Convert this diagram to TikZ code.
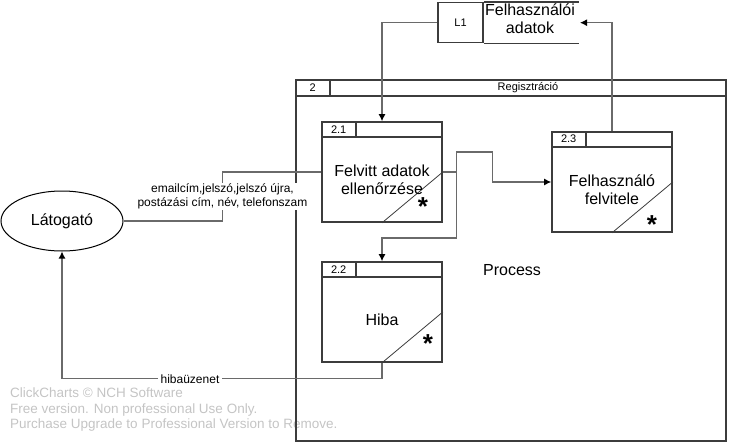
\documentclass[tikz,border=0pt]{standalone}
\usepackage{fontspec}
\setmainfont{Liberation Sans}
\usetikzlibrary{positioning,arrows.meta,shapes.geometric,calc}
\definecolor{linegray}{HTML}{6A6A6A}
\definecolor{boxgray}{HTML}{3C3C3C}
\definecolor{wmgray}{HTML}{C4C4C4}

\begin{document}
\begin{tikzpicture}[x=1pt,y=-1pt,
    box/.style={draw=boxgray,line width=1.6pt},
    proc/.style={box,minimum width=120pt,minimum height=100pt,inner sep=0pt},
    flow/.style={draw=linegray,line width=1.2pt},
    >={Latex[length=7pt,width=7pt,black]},
    big/.style={font=\fontsize{16}{18}\selectfont,align=center},
    small/.style={font=\fontsize{11}{13}\selectfont,inner sep=0pt},
    lbl/.style={font=\fontsize{12}{14}\selectfont,align=center,fill=white,inner xsep=3pt,inner ysep=1pt},
    star/.style={font=\fontsize{26}{26}\selectfont\bfseries,inner sep=0pt}]
  \useasboundingbox (0,0) rectangle (731,444);
  % vízjel
  \node[anchor=north west,align=left,text=wmgray,inner sep=0pt,
        font=\fontsize{13.5}{15.5}\selectfont] (wm) at (10,388)
    {ClickCharts © NCH Software\\Free version. Non professional Use Only.\\Purchase Upgrade to Professional Version to Remove.};
  % 2 Regisztráció
  \node[box,minimum width=430pt,minimum height=361pt,inner sep=0pt] (reg) at (511,260.5) {};
  \draw[box] ([yshift=-17pt]reg.north west) -- ([yshift=-17pt]reg.north east);
  \draw[box] ([xshift=35pt]reg.north west) -- ++(0,17);
  \node[small] (reg-id) at ([xshift=17.5pt,yshift=-8.5pt]reg.north west) {2};
  \node[small] (reg-name) at ($(reg.north)+(17,8.5)$) {Regisztráció};
  \node[big] (proclbl) at (512,270) {Process};
  % folyamatok
  \foreach \n/\x/\y/\id/\sx/\sy in {p21/382/172/2.1/41/35, p22/382/312/2.2/46/32, p23/612/182/2.3/40/43}{
    \node[proc] (\n) at (\x,\y) {};
    \draw[box] ([yshift=-16pt]\n.north west) -- ([yshift=-16pt]\n.north east);
    \draw[box] ([xshift=35pt]\n.north west) -- ++(0,16);
    \node[small] (\n-id) at ([xshift=17.5pt,yshift=-8pt]\n.north west) {\id};
    \draw[draw=boxgray,line width=0.8pt] (\n.south) -- (\n.east);
    \node[star] (\n-star) at (\x+\sx,\y+\sy) {*};
  }
  \node[big] (p21-txt) at ([yshift=-8pt]p21.center) {Felvitt adatok\\ellenőrzése};
  \node[big] (p22-txt) at ([yshift=-8pt]p22.center) {Hiba};
  \node[big] (p23-txt) at ([yshift=-8pt]p23.center) {Felhasználó\\felvitele};
  % L1 adattár
  \node[box,minimum width=45pt,minimum height=40pt,inner sep=0pt,font=\fontsize{11}{13}\selectfont] (l1) at (460.5,22.7) {L1};
  \draw[box] (l1.north east) -- ++(95,0);
  \draw[box] (l1.south east) -- ++(95,0);
  \node[big] (store) at (530,19) {Felhasználói\\adatok};
  \coordinate (storeend) at (580,22.7);
  % Látogató
  \node[ellipse,draw=black,line width=1pt,minimum width=122pt,minimum height=60pt,big] (lat) at (62,221) {Látogató};
  % adatfolyamok
  \draw[flow,->] (l1.west) -| (p21.north);
  \draw[flow,->] (p23.north) |- (storeend);
  \draw[flow] (lat.east) -- ++(99,0) |- node[pos=0.25,lbl] (inlbl)
    {emailcím,jelszó,jelszó újra,\\postázási cím, név, telefonszam} (p21.west);
  \draw[flow,->] (p21.east) -- ++(14,0) coordinate (split) -- ++(0,-20) -| ++(36,30) -- (p23.west);
  \draw[flow,->] (split) -- ++(0,66) -| (p22.north);
  \draw[flow,->] (p22.south) -- ++(0,16) -| node[pos=0.3,lbl] (errlbl) {hibaüzenet} (lat.south);
\end{tikzpicture}
\end{document}
